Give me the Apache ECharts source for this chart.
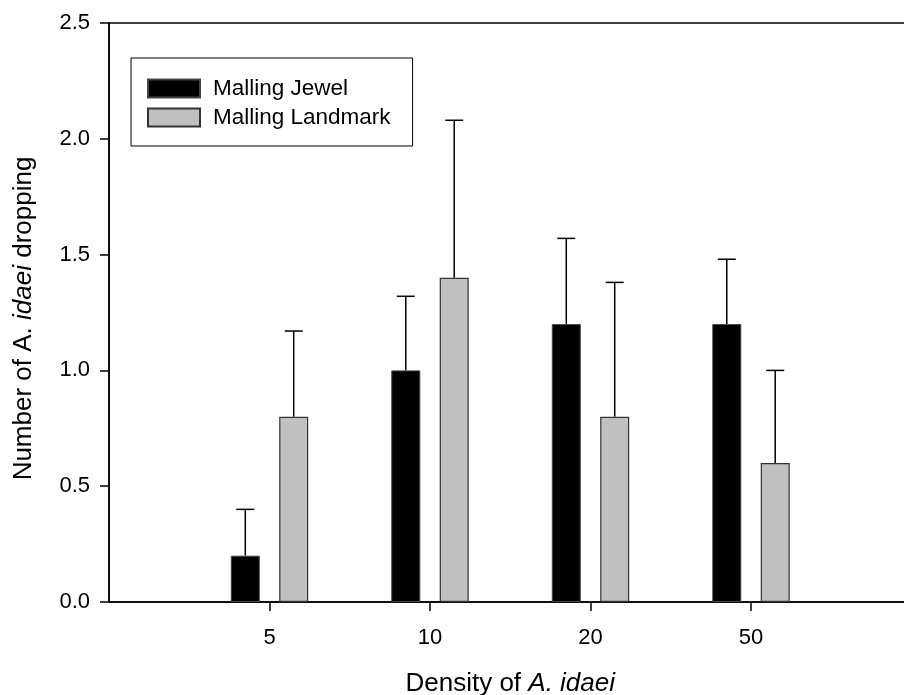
<!DOCTYPE html>
<html>
<head>
<meta charset="utf-8">
<script src="https://cdn.jsdelivr.net/npm/echarts@6/dist/echarts.min.js"></script>
<style>
  html, body { margin: 0; padding: 0; background: #fff; }
  #chart { width: 904px; height: 695px; }
</style>
</head>
<body>
<div id="chart"></div>
<script>
// Aphid density treatments (blank slots pad the axis on each side)
const densities = ['5', '10', '20', '50'];
const categories = [''].concat(densities, ['']);

// Mean number of A. idaei dropping, and standard errors
const jewelMean = [0.2, 1.0, 1.2, 1.2];
const jewelErr = [0.2, 0.32, 0.37, 0.28];
const landmarkMean = [0.8, 1.4, 0.8, 0.6];
const landmarkErr = [0.37, 0.68, 0.58, 0.4];

// Y axis ticks
const yMin = 0, yMax = 2.5, yStep = 0.5;

const FONT = 'Liberation Sans, Arial, sans-serif';
const BAR_W = 29;
const BAR_GAP = 0.67;
const HALF_SPAN = (BAR_W + BAR_W * BAR_GAP) / 2;
const CAP = 9;

function barData(values) {
  return values.map((v, i) => [i + 1, v]);
}
function errData(values, errs) {
  return values.map((v, i) => [i + 1, v, v + errs[i]]);
}
function errorBars(offset) {
  return function (params, api) {
    const lo = api.coord([api.value(0), api.value(1)]);
    const hi = api.coord([api.value(0), api.value(2)]);
    const x = lo[0] + offset;
    const style = { stroke: '#000', lineWidth: 1.5 };
    return {
      type: 'group',
      children: [
        { type: 'line', shape: { x1: x, y1: lo[1], x2: x, y2: hi[1] }, style: style },
        { type: 'line', shape: { x1: x - CAP, y1: hi[1], x2: x + CAP, y2: hi[1] }, style: style }
      ]
    };
  };
}

const titleRich = {
  n: { fontFamily: FONT, fontSize: 26, color: '#000' },
  i: { fontFamily: FONT, fontSize: 26, fontStyle: 'italic', color: '#000' }
};

const chart = echarts.init(document.getElementById('chart'), null, { renderer: 'canvas' });
chart.setOption({
  animation: false,
  backgroundColor: '#fff',
  textStyle: { fontFamily: FONT, color: '#000' },
  grid: {
    left: 109, right: -7.5, top: 23, bottom: 93,
    outerBoundsMode: 'none',
    containLabel: false,
    show: true, borderColor: '#000', borderWidth: 1.5, backgroundColor: 'transparent'
  },
  legend: {
    orient: 'vertical',
    left: 131, top: 58,
    padding: [19, 22, 17, 16],
    itemGap: 6,
    itemWidth: 52, itemHeight: 18,
    borderColor: '#000', borderWidth: 1,
    icon: 'rect',
    textStyle: { fontFamily: FONT, fontSize: 22.5, color: '#000', padding: [0, 0, 0, 8] },
    data: ['Malling Jewel', 'Malling Landmark']
  },
  xAxis: {
    type: 'category',
    data: categories,
    boundaryGap: false,
    name: '{n|Density of }{i|A. idaei}',
    nameLocation: 'middle',
    nameGap: 69,
    nameTextStyle: { rich: titleRich },
    axisLine: { lineStyle: { color: '#000', width: 1.5 } },
    axisTick: { length: 9, lineStyle: { color: '#000', width: 1.5 },
                interval: function (idx) { return idx > 0 && idx < categories.length - 1; } },
    axisLabel: { interval: 0, margin: 25, fontSize: 22, color: '#000', fontFamily: FONT },
    splitLine: { show: false }
  },
  yAxis: {
    type: 'value',
    min: yMin, max: yMax, interval: yStep,
    name: '{n|Number of A. }{i|idaei}{n| dropping}',
    nameLocation: 'middle',
    nameGap: 72,
    nameTextStyle: { rich: titleRich, padding: [0, 12, 0, 0] },
    axisLine: { show: true, lineStyle: { color: '#000', width: 1.5 } },
    axisTick: { show: true, length: 9, lineStyle: { color: '#000', width: 1.5 } },
    axisLabel: { margin: 19, fontSize: 22, color: '#000', fontFamily: FONT,
                 formatter: function (v) { return v.toFixed(1); } },
    splitLine: { show: false }
  },
  series: [
    {
      name: 'Malling Jewel',
      type: 'bar',
      barWidth: BAR_W,
      barGap: (BAR_GAP * 100) + '%',
      itemStyle: { color: '#000', borderColor: '#444', borderWidth: 1 },
      data: barData(jewelMean)
    },
    {
      name: 'Malling Landmark',
      type: 'bar',
      barWidth: BAR_W,
      barGap: (BAR_GAP * 100) + '%',
      itemStyle: { color: '#c0c0c0', borderColor: '#333', borderWidth: 1.2 },
      data: barData(landmarkMean)
    },
    {
      type: 'custom',
      renderItem: errorBars(-HALF_SPAN),
      encode: { x: 0, y: [1, 2] },
      data: errData(jewelMean, jewelErr),
      z: 1
    },
    {
      type: 'custom',
      renderItem: errorBars(HALF_SPAN),
      encode: { x: 0, y: [1, 2] },
      data: errData(landmarkMean, landmarkErr),
      z: 1
    }
  ]
});
</script>
</body>
</html>
